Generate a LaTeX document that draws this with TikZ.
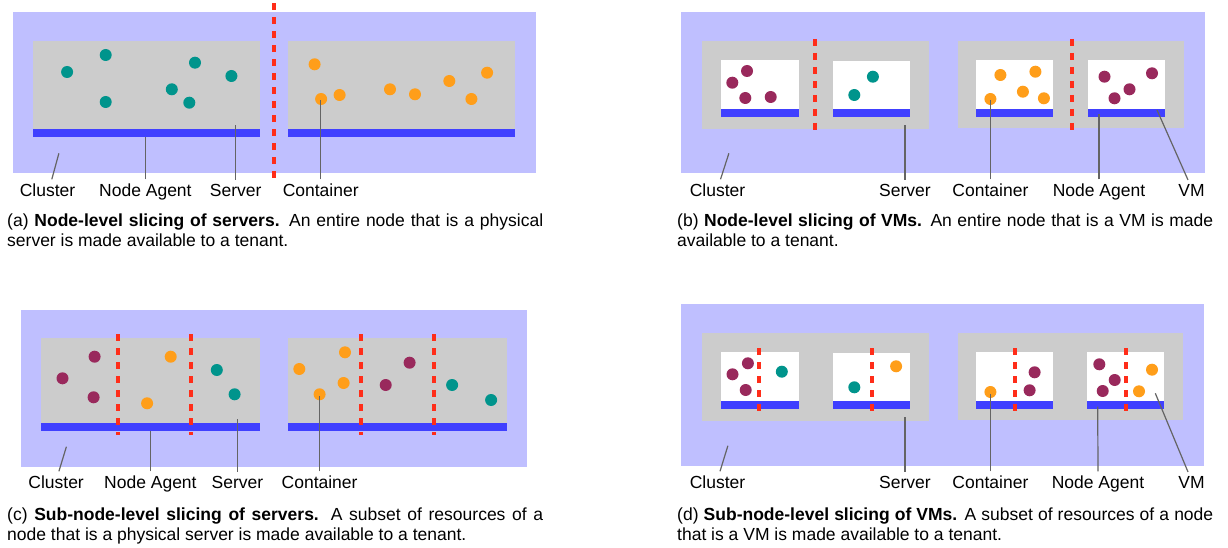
\documentclass[tikz,border=0pt]{standalone}
\usepackage{fontspec}
\setmainfont{Liberation Sans}
\definecolor{clusterbg}{RGB}{191,191,255}
\definecolor{servergrey}{RGB}{204,204,204}
\definecolor{agentblue}{RGB}{64,64,255}
\definecolor{cutred}{RGB}{255,45,25}
\definecolor{ctrteal}{RGB}{0,148,140}
\definecolor{ctrorange}{RGB}{255,158,26}
\definecolor{ctrpurple}{RGB}{153,41,92}
\definecolor{calloutgrey}{RGB}{100,100,100}
\tikzset{
  cluster/.style={fill=clusterbg},
  server/.style={fill=servergrey},
  vmbox/.style={fill=white},
  agent/.style={fill=agentblue},
  cut/.style={draw=cutred, line width=4pt, dash pattern=on 7pt off 7pt},
  callout/.style={draw=calloutgrey, line width=1.2pt},
  lbl/.style={font=\fontsize{17.5}{21}\selectfont, inner sep=0pt, outer sep=4.5pt, anchor=base},
  capt/.style={font=\fontsize{17.5}{20}\selectfont, inner sep=0pt, anchor=north west,
    text width=536pt, align=justify}
}
\begin{document}
\begin{tikzpicture}[x=1pt, y=-1pt]
      \useasboundingbox (0,0) rectangle (1228,548);
      % (a) node-level slicing of servers
      \fill [cluster] (12.5,12.3) rectangle (535.7,173.3);
      \fill [server] (32.9,41) rectangle (259.6,129);
      \fill [agent] (32.9,129) rectangle (259.6,136.7);
      \fill [server] (287.9,41) rectangle (514.6,129);
      \fill [agent] (287.9,129) rectangle (514.6,136.7);
      \fill [ctrteal] (67.1,72) circle (6pt);
      \fill [ctrteal] (105.7,55) circle (6pt);
      \fill [ctrteal] (105.7,102) circle (6pt);
      \fill [ctrteal] (195,62.7) circle (6pt);
      \fill [ctrteal] (231.4,76) circle (6pt);
      \fill [ctrteal] (171.8,89.3) circle (6pt);
      \fill [ctrteal] (189.3,102.7) circle (6pt);
      \fill [ctrorange] (314.6,64.3) circle (6pt);
      \fill [ctrorange] (321.1,99) circle (6pt);
      \fill [ctrorange] (339.6,95) circle (6pt);
      \fill [ctrorange] (390,89.3) circle (6pt);
      \fill [ctrorange] (415,94.3) circle (6pt);
      \fill [ctrorange] (449.3,81) circle (6pt);
      \fill [ctrorange] (471.4,99) circle (6pt);
      \fill [ctrorange] (487.1,72.7) circle (6pt);
      \draw [cut] (274.3,3.3) -- (274.3,180);
      \node [lbl] (a-cluster) at (47.5,196.5) {Cluster};
      \node [lbl] (a-agent) at (145.4,196.5) {Node Agent};
      \node [lbl] (a-server) at (235.7,196.5) {Server};
      \node [lbl] (a-ctr) at (320.7,196.5) {Container};
      \coordinate (a-cluster-pt) at (58.9,153.3);
      \coordinate (a-agent-pt) at (145.4,136.7);
      \coordinate (a-server-pt) at (235.7,125);
      \coordinate (a-ctr-pt) at (320.7,100);
      \draw [callout] ([xshift=4.3pt]a-cluster.north) -- (a-cluster-pt);
      \draw [callout] (a-agent.north) -- (a-agent-pt);
      \draw [callout] (a-server.north) -- (a-server-pt);
      \draw [callout] (a-ctr.north) -- (a-ctr-pt);
      \node [capt] (a-capt) at (7,214) {(a) \textbf{Node-level slicing of servers.} An entire node that is a physical\linebreak server is made available to a tenant.};

      % (b) node-level slicing of VMs
      \fill [cluster] (681.4,12.3) rectangle (1204.5,173.3);
      \fill [server] (702.1,41) rectangle (928.9,129);
      \fill [server] (957.9,41) rectangle (1183.5,127.7);
      \fill [vmbox] (721.1,60) rectangle (798.6,109);
      \fill [agent] (721.1,109) rectangle (798.6,116.7);
      \fill [vmbox] (832.5,61) rectangle (910,109);
      \fill [agent] (832.5,109) rectangle (910,116.7);
      \fill [vmbox] (976.1,60) rectangle (1053.2,109);
      \fill [agent] (976.1,109) rectangle (1053.2,116.7);
      \fill [vmbox] (1088,60) rectangle (1164.5,109);
      \fill [agent] (1088,109) rectangle (1164.5,116.7);
      \fill [ctrpurple] (732.3,82.7) circle (6pt);
      \fill [ctrpurple] (747,71) circle (6pt);
      \fill [ctrpurple] (745.3,98) circle (6pt);
      \fill [ctrpurple] (770.7,97) circle (6pt);
      \fill [ctrteal] (872.9,76.7) circle (6pt);
      \fill [ctrteal] (854.3,95) circle (6pt);
      \fill [ctrorange] (1000.4,75) circle (6pt);
      \fill [ctrorange] (1035.4,71.7) circle (6pt);
      \fill [ctrorange] (1022.9,91.7) circle (6pt);
      \fill [ctrorange] (990.4,99) circle (6pt);
      \fill [ctrorange] (1043.9,98.3) circle (6pt);
      \fill [ctrpurple] (1104.5,76.7) circle (6pt);
      \fill [ctrpurple] (1152,73.3) circle (6pt);
      \fill [ctrpurple] (1129.5,89.3) circle (6pt);
      \fill [ctrpurple] (1114.5,98.3) circle (6pt);
      \draw [cut] (815.4,39) -- (815.4,130.7);
      \draw [cut] (1072.2,39) -- (1072.2,130.7);
      \node [lbl] (b-cluster) at (717.5,196.5) {Cluster};
      \node [lbl] (b-server) at (905,196.5) {Server};
      \node [lbl] (b-ctr) at (990.4,196.5) {Container};
      \node [lbl] (b-agent) at (1099,196.5) {Node Agent};
      \node [lbl] (b-vm) at (1191.5,196.5) {VM};
      \coordinate (b-cluster-pt) at (728.9,153.3);
      \coordinate (b-server-pt) at (905,125);
      \coordinate (b-ctr-pt) at (990.4,100);
      \coordinate (b-agent-pt) at (1099,114);
      \coordinate (b-vm-pt) at (1157,110);
      \draw [callout] ([xshift=3pt]b-cluster.north) -- (b-cluster-pt);
      \draw [callout] (b-server.north) -- (b-server-pt);
      \draw [callout] (b-ctr.north) -- (b-ctr-pt);
      \draw [callout] (b-agent.north) -- (b-agent-pt);
      \draw [callout] ([xshift=-3.5pt]b-vm.north) -- (b-vm-pt);
      \node [capt] (b-capt) at (677,214) {(b) \textbf{Node-level slicing of VMs.} An entire node that is a VM is made\linebreak available to a tenant.};

      % (c) sub-node-level slicing of servers
      \fill [cluster] (21.4,310) rectangle (526.8,466.7);
      \fill [server] (41.1,338.3) rectangle (259.6,422.7);
      \fill [agent] (41.1,422.7) rectangle (259.6,430.7);
      \fill [server] (287.9,338.3) rectangle (507.1,422.7);
      \fill [agent] (287.9,422.7) rectangle (507.1,430.7);
      \fill [ctrpurple] (62.5,378.3) circle (6pt);
      \fill [ctrpurple] (94.6,356.7) circle (6pt);
      \fill [ctrpurple] (93.6,397.3) circle (6pt);
      \fill [ctrorange] (170.7,356.7) circle (6pt);
      \fill [ctrorange] (147.1,403.3) circle (6pt);
      \fill [ctrteal] (216.8,370) circle (6pt);
      \fill [ctrteal] (234.6,394.3) circle (6pt);
      \fill [ctrorange] (299.3,369) circle (6pt);
      \fill [ctrorange] (345,352.3) circle (6pt);
      \fill [ctrorange] (343.6,383) circle (6pt);
      \fill [ctrorange] (319.6,394.3) circle (6pt);
      \fill [ctrpurple] (385.7,385) circle (6pt);
      \fill [ctrpurple] (409.6,362.7) circle (6pt);
      \fill [ctrteal] (452.1,385) circle (6pt);
      \fill [ctrteal] (491.1,400) circle (6pt);
      \draw [cut] (117.9,334) -- (117.9,435);
      \draw [cut] (191.1,334) -- (191.1,435);
      \draw [cut] (360.7,334) -- (360.7,435);
      \draw [cut] (433.9,334) -- (433.9,435);
      \node [lbl] (c-cluster) at (56.1,488.5) {Cluster};
      \node [lbl] (c-agent) at (150.4,488.5) {Node Agent};
      \node [lbl] (c-server) at (237.5,488.5) {Server};
      \node [lbl] (c-ctr) at (319.6,488.5) {Container};
      \coordinate (c-cluster-pt) at (66.4,446.7);
      \coordinate (c-agent-pt) at (150.4,430.7);
      \coordinate (c-server-pt) at (237.5,419.3);
      \coordinate (c-ctr-pt) at (319.6,395.7);
      \draw [callout] ([xshift=2.8pt]c-cluster.north) -- (c-cluster-pt);
      \draw [callout] (c-agent.north) -- (c-agent-pt);
      \draw [callout] (c-server.north) -- (c-server-pt);
      \draw [callout] (c-ctr.north) -- (c-ctr-pt);
      \node [capt] (c-capt) at (7,508) {(c) \textbf{Sub-node-level slicing of servers.} A subset of resources of a\linebreak node that is a physical server is made available to a tenant.};

      % (d) sub-node-level slicing of VMs
      \fill [cluster] (681.4,304) rectangle (1204,465.7);
      \fill [server] (702.1,332.7) rectangle (928.9,420.7);
      \fill [server] (957.9,332.7) rectangle (1182.7,420);
      \fill [vmbox] (721.1,351.7) rectangle (798.6,401);
      \fill [agent] (721.1,401) rectangle (798.6,409);
      \fill [vmbox] (832.5,353) rectangle (910,401);
      \fill [agent] (832.5,401) rectangle (910,409);
      \fill [vmbox] (976.1,352) rectangle (1053.2,401);
      \fill [agent] (976.1,401) rectangle (1053.2,409);
      \fill [vmbox] (1087.3,352.3) rectangle (1163.7,401);
      \fill [agent] (1087.3,401) rectangle (1163.7,409);
      \fill [ctrpurple] (732.5,374.3) circle (6pt);
      \fill [ctrpurple] (747.9,363.3) circle (6pt);
      \fill [ctrpurple] (745.7,390) circle (6pt);
      \fill [ctrteal] (781.8,371.7) circle (6pt);
      \fill [ctrteal] (854.3,387.3) circle (6pt);
      \fill [ctrorange] (896.1,366.3) circle (6pt);
      \fill [ctrorange] (990.4,392) circle (6pt);
      \fill [ctrpurple] (1034.6,372.3) circle (6pt);
      \fill [ctrpurple] (1029.6,390.3) circle (6pt);
      \fill [ctrpurple] (1099.3,364.3) circle (6pt);
      \fill [ctrpurple] (1114.7,380) circle (6pt);
      \fill [ctrpurple] (1102.7,391) circle (6pt);
      \fill [ctrorange] (1152,369.7) circle (6pt);
      \fill [ctrorange] (1139,391.3) circle (6pt);
      \draw [cut] (758.6,348.3) -- (758.6,411.7);
      \draw [cut] (871.8,348.3) -- (871.8,411.7);
      \draw [cut] (1015,348.3) -- (1015,411.7);
      \draw [cut] (1125.7,348.3) -- (1125.7,411.7);
      \node [lbl] (d-cluster) at (717.5,488.5) {Cluster};
      \node [lbl] (d-server) at (905,488.5) {Server};
      \node [lbl] (d-ctr) at (990.4,488.5) {Container};
      \node [lbl] (d-agent) at (1098,488.5) {Node Agent};
      \node [lbl] (d-vm) at (1191.5,488.5) {VM};
      \coordinate (d-cluster-pt) at (727.9,445.7);
      \coordinate (d-server-pt) at (905,417.3);
      \coordinate (d-ctr-pt) at (990.4,393.7);
      \coordinate (d-agent-pt) at (1097.7,406.7);
      \coordinate (d-vm-pt) at (1155.3,393.3);
      \draw [callout] ([xshift=2.5pt]d-cluster.north) -- (d-cluster-pt);
      \draw [callout] (d-server.north) -- (d-server-pt);
      \draw [callout] (d-ctr.north) -- (d-ctr-pt);
      \draw [callout] (d-agent.north) -- (d-agent-pt);
      \draw [callout] ([xshift=-3.5pt]d-vm.north) -- (d-vm-pt);
      \node [capt] (d-capt) at (677,508) {(d) \textbf{Sub-node-level slicing of VMs.} A subset of resources of a node\linebreak that is a VM is made available to a tenant.};
    \end{tikzpicture}
\end{document}
